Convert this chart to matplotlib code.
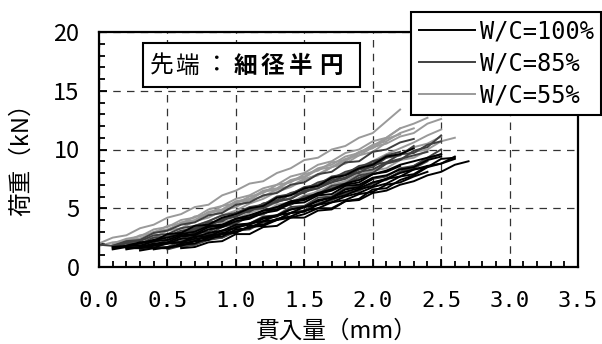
import matplotlib
matplotlib.use("Agg")
import matplotlib.pyplot as plt
from matplotlib.patches import Rectangle
from matplotlib.ticker import MultipleLocator, FormatStrFormatter

# shared displacement grid (mm); each curve starts somewhere on it
X_MM = [0.0, 0.1, 0.2, 0.3, 0.4, 0.5, 0.6, 0.7, 0.8, 0.9, 1.0, 1.1, 1.2, 1.3,
        1.4, 1.5, 1.6, 1.7, 1.8, 1.9, 2.0, 2.1, 2.2, 2.3, 2.4, 2.5, 2.6, 2.7]

# load (kN) per test, (start mm, values)
WC100 = [
    (0.1, [1.5, 1.7, 1.6, 1.8, 2.0, 2.1, 2.4, 2.5, 2.9, 3.0, 3.4, 3.5, 4.0, 4.2,
           4.5, 5.0, 5.0, 5.6, 5.7, 6.3, 6.5, 7.0, 7.3, 7.8, 8.1, 8.7, 9.0]),
    (0.6, [1.6, 1.7, 2.1, 2.2, 2.8, 2.8, 3.4, 3.5, 4.2, 4.2, 4.8, 4.9, 5.6, 5.8,
           6.6, 6.7, 7.4, 7.8, 8.5, 8.8, 9.2]),
    (0.2, [1.5, 1.7, 1.6, 2.1, 2.1, 2.6, 2.6, 3.1, 3.3, 3.7, 3.9, 4.4, 4.6, 5.1,
           5.3, 5.8, 6.1, 6.6, 6.9, 7.5, 7.7, 8.3, 8.5, 9.2, 9.3]),
    (0.3, [1.7, 2.0, 2.1, 2.6, 2.7, 3.2, 3.4, 3.9, 4.1, 4.6, 4.8, 5.4, 5.5, 6.1,
           6.2, 6.9, 7.0, 7.6, 7.8, 8.3, 8.5, 9.1, 9.4]),
    (0.2, [1.8, 2.1, 2.2, 2.8, 2.9, 3.5, 3.6, 4.2, 4.5, 5.0, 5.2, 5.9, 6.1, 6.7,
           6.9, 7.6, 7.8, 8.4, 8.7, 9.4, 9.6, 10.1]),
    (0.4, [1.5, 1.7, 1.8, 2.2, 2.3, 2.8, 2.9, 3.5, 3.6, 4.1, 4.3, 4.8, 5.0, 5.5,
           5.7, 6.2, 6.4, 7.0, 7.2, 7.7, 8.1]),
    (0.1, [1.6, 1.8, 1.8, 2.2, 2.3, 2.7, 2.8, 3.4, 3.5, 4.1, 4.2, 4.8, 4.9, 5.5,
           5.7, 6.2, 6.5, 7.0, 7.2, 7.9, 8.1, 8.6]),
    (0.5, [1.6, 1.9, 2.0, 2.5, 2.6, 3.2, 3.3, 3.9, 4.0, 4.6, 4.7, 5.3, 5.5, 6.0,
           6.3, 6.8, 7.1, 7.7, 7.9, 8.6, 8.8, 9.4]),
    (0.3, [1.4, 1.6, 1.6, 2.0, 2.2, 2.7, 2.8, 3.4, 3.6, 4.1, 4.3, 4.9, 5.1, 5.7,
           5.9, 6.6, 6.8, 7.5]),
    (0.2, [1.6, 1.6, 1.9, 2.0, 2.4, 2.5, 2.9, 3.1, 3.6, 3.7, 4.2, 4.4, 4.9, 5.1,
           5.6, 5.9, 6.4, 6.7, 7.2, 7.5, 8.0, 8.3, 8.6]),
    (0.1, [1.7, 1.8, 2.0, 2.3, 2.5, 2.8, 3.0, 3.5, 3.6, 4.1, 4.4, 4.8, 5.1, 5.6,
           5.8, 6.3, 6.6, 7.1, 7.4, 7.9, 8.2, 8.7, 9.0, 9.3, 9.6]),
]

WC85 = [
    (0.1, [1.7, 2.0, 2.0, 2.5, 2.6, 3.1, 3.2, 3.8, 3.9, 4.6, 4.7, 5.4, 5.5, 6.2,
           6.3, 7.0, 7.2, 7.9, 8.0, 8.7, 8.9, 9.6, 9.7, 10.4, 10.7]),
    (0.2, [1.7, 2.0, 2.1, 2.6, 2.8, 3.3, 3.5, 4.0, 4.3, 4.9, 5.0, 5.6, 5.8, 6.5,
           6.7, 7.4, 7.6, 8.3, 8.5, 9.3, 9.5, 10.3]),
    (0.3, [1.5, 1.7, 1.7, 2.2, 2.3, 2.8, 3.0, 3.5, 3.7, 4.3, 4.4, 5.1, 5.2, 5.9,
           6.0, 6.7, 6.9, 7.5, 7.7, 8.4, 8.6, 9.2, 9.6]),
    (0.1, [1.8, 2.2, 2.3, 2.9, 3.1, 3.6, 3.8, 4.4, 4.6, 5.3, 5.5, 6.1, 6.3, 7.0,
           7.2, 7.9, 8.1, 8.9, 9.0, 9.8, 10.0, 10.6, 10.9]),
    (0.4, [1.6, 2.0, 2.1, 2.7, 2.8, 3.4, 3.7, 4.3, 4.5, 5.1, 5.3, 6.0, 6.2, 6.9,
           7.1, 7.8, 8.0, 8.8, 9.1, 9.9, 10.2, 11.2]),
    (0.2, [1.6, 1.8, 1.8, 2.3, 2.4, 2.9, 3.0, 3.6, 3.8, 4.3, 4.5, 5.1, 5.3, 5.9,
           6.1, 6.7, 7.0, 7.6, 8.0]),
    (0.0, [1.9, 1.8, 2.1, 2.2, 2.7, 2.8, 3.3, 3.5, 3.9, 4.4, 4.6, 5.1, 5.3, 6.0,
           6.2, 6.8, 7.0, 7.7, 7.9, 8.6, 8.8, 9.5, 9.8]),
    (0.5, [1.5, 1.8, 1.9, 2.4, 2.5, 3.1, 3.2, 3.8, 4.0, 4.6, 4.8, 5.4, 5.7, 6.3,
           6.5, 7.2, 7.4, 8.1, 8.4, 9.0]),
    (0.3, [1.8, 2.2, 2.3, 2.9, 3.1, 3.7, 3.9, 4.6, 4.8, 5.4, 5.7, 6.3, 6.6, 7.2,
           7.5, 8.1, 8.4, 9.0, 9.3]),
    (0.2, [1.8, 2.0, 2.3, 2.6, 2.9, 3.3, 3.6, 4.1, 4.3, 4.8, 5.1, 5.6, 5.8, 6.4,
           6.7, 7.2, 7.5, 8.1, 8.3, 8.9, 9.2, 9.5, 9.8]),
    (0.6, [1.7, 1.9, 2.3, 2.5, 3.0, 3.3, 3.8, 4.0, 4.6, 4.8, 5.4, 5.7, 6.2, 6.5,
           7.1, 7.5, 8.1, 8.6, 9.3, 10.0]),
]

WC55 = [
    (0.0, [2.0, 2.5, 2.7, 3.3, 3.6, 4.2, 4.5, 5.1, 5.3, 6.1, 6.5, 7.1, 7.3, 8.0,
           8.4, 9.1, 9.3, 10.0, 10.3, 11.0, 11.4, 12.4, 13.4]),
    (0.1, [1.9, 2.3, 2.4, 3.0, 3.2, 3.7, 3.9, 4.6, 4.8, 5.5, 5.7, 6.4, 6.6, 7.3,
           7.6, 8.3, 8.5, 9.2, 9.5, 10.2, 10.5, 11.1, 11.4, 12.2, 12.6]),
    (0.2, [1.7, 2.1, 2.2, 2.7, 2.9, 3.4, 3.6, 4.2, 4.4, 5.0, 5.2, 5.9, 6.1, 6.7,
           7.0, 7.6, 7.8, 8.5, 8.7, 9.4, 9.6, 10.2, 10.5, 11.1]),
    (0.1, [1.8, 2.2, 2.4, 2.9, 3.1, 3.8, 4.0, 4.7, 4.9, 5.6, 5.8, 6.5, 6.7, 7.4,
           7.7, 8.4, 8.7, 9.4, 9.7, 10.4, 10.7, 11.4, 11.8]),
    (0.3, [1.6, 1.9, 2.0, 2.5, 2.7, 3.2, 3.4, 4.0, 4.2, 4.8, 5.0, 5.6, 5.8, 6.5,
           6.7, 7.3, 7.5, 8.2, 8.4, 9.1, 9.3, 9.9]),
    (0.0, [1.8, 2.1, 2.2, 2.7, 2.9, 3.5, 3.7, 4.3, 4.5, 5.2, 5.4, 6.0, 6.3, 7.0,
           7.2, 7.9, 8.2, 8.9, 9.1, 9.8, 10.1, 10.9, 11.3]),
    (0.2, [1.9, 2.3, 2.5, 3.1, 3.3, 3.9, 4.2, 4.8, 5.1, 5.7, 6.0, 6.6, 6.9, 7.5,
           7.8, 8.5, 8.8, 9.5, 9.8, 10.6]),
    (0.4, [1.7, 2.1, 2.2, 2.8, 3.0, 3.6, 3.8, 4.4, 4.6, 5.3, 5.5, 6.1, 6.4, 7.0,
           7.3, 7.9, 8.2, 8.8, 9.1, 9.8, 10.0, 10.7, 11.0]),
    (0.1, [2.0, 2.4, 2.6, 3.2, 3.4, 4.0, 4.2, 4.9, 5.2, 5.8, 6.1, 6.7, 7.0, 7.7,
           8.0, 8.7, 9.0, 9.7, 10.0, 10.7, 11.0, 11.8, 12.2, 12.7]),
    (0.3, [1.9, 2.3, 2.6, 3.0, 3.5, 3.9, 4.4, 4.8, 5.4, 5.8, 6.4, 6.8, 7.4, 7.9,
           8.5, 9.0, 9.7, 10.3, 11.0, 11.8]),
    (0.5, [2.3, 2.5, 3.0, 3.3, 3.8, 4.1, 4.6, 5.0, 5.5, 5.9, 6.5, 6.9, 7.5, 7.9,
           8.5, 9.0, 9.6, 10.1, 10.6, 11.2, 11.7]),
]

SERIES = [
    ("W/C=100%", WC100, "#000000"),
    ("W/C=85%", WC85, "#404040"),
    ("W/C=55%", WC55, "#9a9a9a"),
]

JP = "Noto Sans CJK JP"
MONO = "DejaVu Sans Mono"
W, H = 602, 344


def fx(px):
    return px / W


def fy(py):
    return 1 - py / H


fig = plt.figure(figsize=(6.02, 3.44), dpi=100)
ax = fig.add_axes([fx(99), fy(267), (578 - 99) / W, (267 - 32) / H])

handles = []
for label, curves, color in reversed(SERIES):
    for k, (x0, ys) in enumerate(curves):
        i0 = X_MM.index(x0)
        xs = X_MM[i0:i0 + len(ys)]
        ln, = ax.plot(xs, ys, color=color, lw=1.4, solid_joinstyle="miter",
                      label=label if k == 0 else None)
        if k == 0:
            handles.append(ln)
handles = handles[::-1]

ax.set_xlim(0, 3.5)
ax.set_ylim(0, 20)
ax.xaxis.set_major_locator(MultipleLocator(0.5))
ax.xaxis.set_minor_locator(MultipleLocator(0.1))
ax.yaxis.set_major_locator(MultipleLocator(5))
ax.yaxis.set_minor_locator(MultipleLocator(1))
ax.xaxis.set_major_formatter(FormatStrFormatter("%.1f"))
ax.yaxis.set_major_formatter(FormatStrFormatter("%d"))
ax.tick_params(which="both", direction="in", color="black", width=1.3)
ax.tick_params(which="major", length=6)
ax.tick_params(which="minor", length=4.5)
ax.tick_params(axis="x", pad=17)
ax.tick_params(axis="y", pad=14)
for t in ax.get_xticklabels():
    t.set_fontfamily(MONO)
    t.set_fontsize(16)
for t in ax.get_yticklabels():
    t.set_fontfamily(JP)
    t.set_fontsize(17)
for s in ax.spines.values():
    s.set_linewidth(1.6)
ax.grid(True, which="major", color="#333333", lw=0.9, ls=(0, (6, 5)))
ax.set_axisbelow(True)

# axis titles
fig.text(fx(337), fy(331), "貫入量（mm）", family=JP, fontsize=17,
         ha="center", va="center")
fig.text(fx(22), fy(154), "荷重（kN）", family=JP, fontsize=17,
         rotation=90, ha="center", va="center")

# tip-shape label box
fig.patches.append(Rectangle((fx(143), fy(87)), (360 - 143) / W, 44 / H,
                             transform=fig.transFigure, facecolor="white",
                             edgecolor="black", lw=1.5, zorder=5))
box_chars = [("先", 162, "normal"), ("端", 187, "normal"), ("：", 217, "normal"),
             ("細", 245, "bold"), ("径", 272, "bold"), ("半", 301, "bold"),
             ("円", 331, "bold")]
for ch, px, wt in box_chars:
    fig.text(fx(px), fy(66), ch, family=JP, fontsize=17, fontweight=wt,
             ha="center", va="center", zorder=6)

leg = fig.legend(handles=handles, loc="upper right",
                 bbox_to_anchor=(fx(601), fy(12)), bbox_transform=fig.transFigure,
                 prop={"family": MONO, "size": 17}, frameon=True, fancybox=False,
                 framealpha=1, edgecolor="black", borderaxespad=0,
                 handlelength=2.4, handletextpad=0.2, labelspacing=0.35,
                 borderpad=0.3)
leg.get_frame().set_linewidth(1.5)
leg.set_zorder(10)

fig.savefig("out.png", dpi=100)
